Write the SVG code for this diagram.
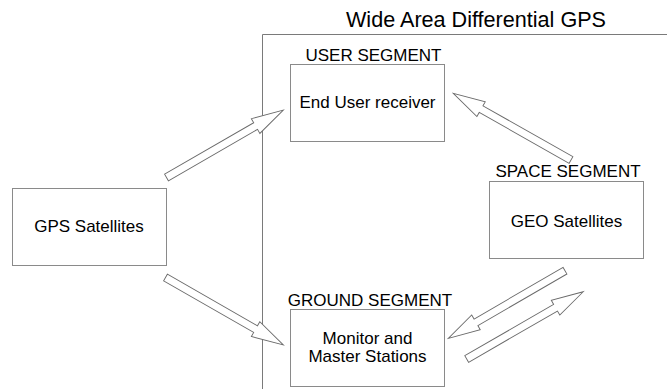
<svg xmlns="http://www.w3.org/2000/svg" width="667" height="389" viewBox="0 0 667 389">
<style>
text{font-family:"Liberation Sans",Arial,Helvetica,sans-serif;fill:#000;text-anchor:middle}
.lbl{font-size:17px}
.title{font-size:21.6px}
.box{fill:#fff;stroke:#8a8a8a;stroke-width:1}
.frame{fill:none;stroke:#7a7a7a;stroke-width:1}
.arr{fill:#fff;stroke:#6a6a6a;stroke-width:0.9;stroke-linejoin:miter}
</style>
<rect width="667" height="389" fill="#fff"/>
<g id="frame">
<path class="frame" d="M262.5,389 V34.5 H667"/>
<text class="title" x="476" y="27">Wide Area Differential GPS</text>
</g>
<g id="connectors">
<path class="arr" transform="translate(166.5,177.5) rotate(-30)" d="M0,-3.8 H102.9 V-8.5 L134.9,0 L102.9,8.5 V3.8 H0 Z"/>
<path class="arr" transform="translate(165.5,277.5) rotate(29.8)" d="M0,-3.8 H103.8 V-8.5 L135.8,0 L103.8,8.5 V3.8 H0 Z"/>
<path class="arr" transform="translate(571,160) rotate(-150.5)" d="M0,-3.8 H103.3 V-8.5 L135.3,0 L103.3,8.5 V3.8 H0 Z"/>
<path class="arr" transform="translate(565,270.7) rotate(149.9)" d="M0,-3.8 H102.9 V-8.5 L134.9,0 L102.9,8.5 V3.8 H0 Z"/>
<path class="arr" transform="translate(466.7,359) rotate(-30)" d="M0,-3.8 H102.6 V-8.5 L134.6,0 L102.6,8.5 V3.8 H0 Z"/>
</g>
<g id="node-gps">
<rect class="box" x="12.5" y="188.5" width="154" height="77"/>
<text class="lbl" x="89" y="232">GPS Satellites</text>
</g>
<g id="node-user">
<text class="lbl" x="373.5" y="61">USER SEGMENT</text>
<rect class="box" x="290.5" y="64.5" width="154" height="77"/>
<text class="lbl" x="367.5" y="108">End User receiver</text>
</g>
<g id="node-geo">
<text class="lbl" x="568" y="177">SPACE SEGMENT</text>
<rect class="box" x="489.5" y="181.5" width="154" height="77"/>
<text class="lbl" x="566.5" y="227">GEO Satellites</text>
</g>
<g id="node-ground">
<text class="lbl" x="370" y="306">GROUND SEGMENT</text>
<rect class="box" x="290.5" y="309.5" width="154" height="77"/>
<text class="lbl" x="367.5" y="344">Monitor and</text>
<text class="lbl" x="367.5" y="362">Master Stations</text>
</g>
</svg>
